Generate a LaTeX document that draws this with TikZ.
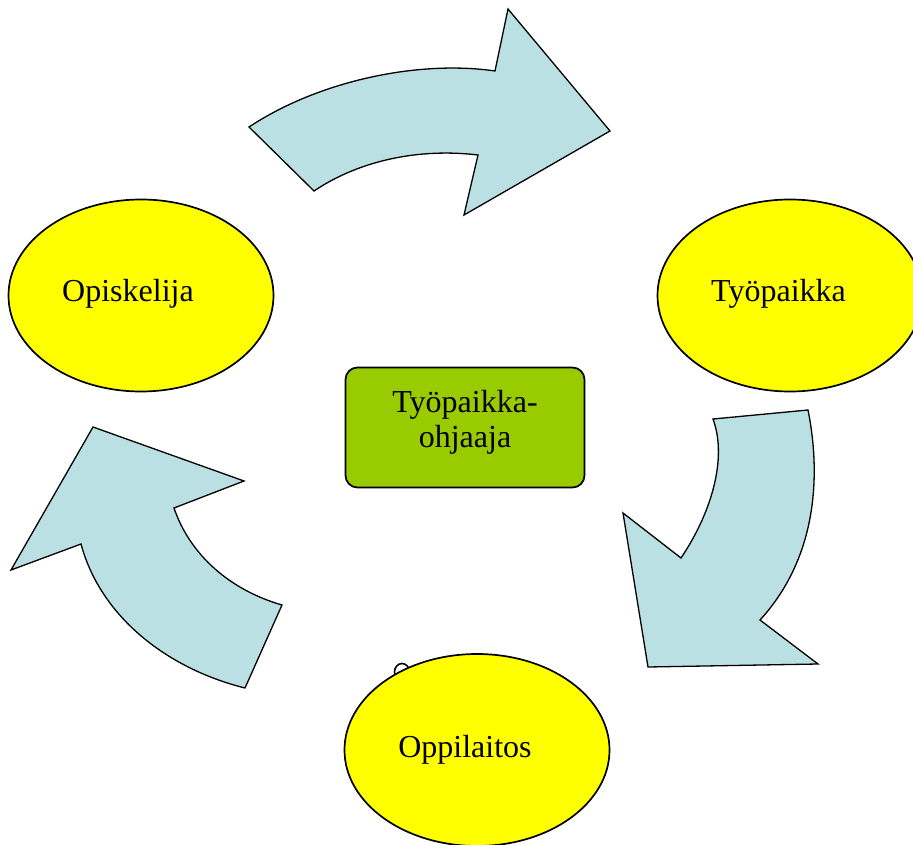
\documentclass[tikz,border=0pt]{standalone}
\usepackage{fontspec}
\setmainfont{Liberation Serif}
\usetikzlibrary{shapes.geometric}
\definecolor{arrowblue}{RGB}{187,224,227}
\definecolor{ellyellow}{RGB}{255,255,0}
\definecolor{boxgreen}{RGB}{153,204,0}
\begin{document}
\begin{tikzpicture}[x=1pt,y=-1pt,
  bigarrow/.style={fill=arrowblue,draw=black,line width=1.3pt,line join=miter},
  oval/.style={ellipse,draw=black,fill=ellyellow,line width=1.7pt,minimum width=265pt,minimum height=192pt,inner sep=0pt},
  centrebox/.style={draw=black,fill=boxgreen,rounded corners=12pt,minimum width=239pt,minimum height=120pt,line width=1.7pt,inner sep=0pt},
  lbl/.style={font=\fontsize{32}{35}\selectfont,inner sep=0pt,anchor=base},
  boxlbl/.style={font=\fontsize{32}{35}\selectfont,inner sep=0pt,align=center,anchor=north}]
\useasboundingbox (0,0) rectangle (913,845);
% curved arrows
\path[bigarrow] (249,127) .. controls (320,80) and (420,60) .. (495,71) -- (508,9) -- (610,131) -- (464,215) -- (478,155) .. controls (420,148) and (360,160) .. (314,191) -- cycle;
\path[bigarrow] (713,419) -- (808,410) .. controls (822,480) and (815,560) .. (760,620) -- (818,664) -- (648,667) -- (623,513) -- (681,558) .. controls (710,515) and (728,460) .. (713,419) -- cycle;
\path[bigarrow] (93,427) -- (244,481) -- (174,508) .. controls (190,555) and (230,590) .. (282,605) -- (245,688) .. controls (165,668) and (100,615) .. (81,544) -- (11,570) -- cycle;
% small O partly hidden
\draw[line width=1.6pt] (402,672) ellipse [x radius=7.5pt, y radius=8.5pt];
% ellipses
\node[oval] (opiskelija) at (141,295.5) {};
\node[oval] (tyopaikka) at (790,295.5) {};
\node[oval] (oppilaitos) at (477,750) {};
\node[lbl] (opiskelijatext) at (128,301) {Opiskelija};
\node[lbl] (tyopaikkatext) at (778.5,301) {Työpaikka};
\node[lbl] (oppilaitostext) at (465,757) {Oppilaitos};
% centre box
\node[centrebox] (ohjaaja) at (465,427.5) {};
\node[boxlbl] (ohjaajatext) at (465,390) {Työpaikka-\\ohjaaja};
\end{tikzpicture}
\end{document}
